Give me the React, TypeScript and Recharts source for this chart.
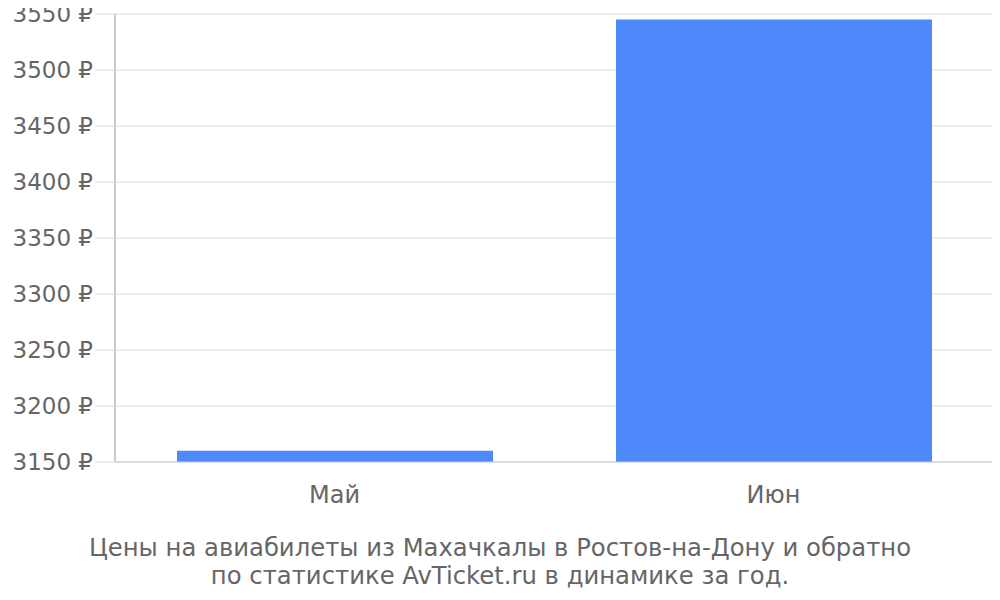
import { BarChart, Bar, XAxis, YAxis, CartesianGrid } from 'recharts';

const months = ['Май', 'Июн'];
const prices = [3160, 3545];
const priceTicks = [3150, 3200, 3250, 3300, 3350, 3400, 3450, 3500, 3550];
const bandEdges = [0, 1, 2];

const chartData = months.map((m, i) => ({ month: m, price: prices[i] }));

const FONT = '"DejaVu Sans", sans-serif';
const TEXT = '#666666';

function PriceTick({ x, y, payload }: any) {
  return (
    <text
      x={x}
      y={y}
      dy="0.36em"
      textAnchor="end"
      fill={TEXT}
      fontSize={23}
      fontFamily={FONT}
    >
      {`${payload.value} ₽`}
    </text>
  );
}

export default function App() {
  return (
    <div style={{ fontFamily: FONT, width: 992 }}>
      <style>{'svg { overflow: visible !important; }'}</style>
      <BarChart
        width={992}
        height={520}
        data={chartData}
        margin={{ top: 6, right: 7, bottom: 0, left: 0 }}
      >
        {/* band boundaries: gives the vertical grid and the long marks below the axis */}
        <XAxis
          xAxisId="bands"
          type="number"
          domain={[0, 2]}
          ticks={bandEdges}
          interval={0}
          height={0}
          tick={false}
          axisLine={false}
          tickLine={{ stroke: '#dddddd' }}
          tickSize={19}
        />
        <XAxis
          xAxisId="cat"
          dataKey="month"
          height={66}
          interval={0}
          axisLine={{ stroke: '#cccccc' }}
          tickLine={false}
          tickSize={6}
          tickMargin={18}
          tick={{ fill: TEXT, fontSize: 24, fontFamily: FONT }}
        />
        <YAxis
          width={107}
          domain={[3150, 3550]}
          ticks={priceTicks}
          interval={0}
          allowDataOverflow
          axisLine={{ stroke: '#aaaaaa' }}
          tickLine={{ stroke: '#dddddd' }}
          tickSize={20}
          tickMargin={2}
          tick={<PriceTick />}
        />
        <CartesianGrid xAxisId="bands" stroke="#dddddd" />
        <Bar
          xAxisId="cat"
          dataKey="price"
          fill="#4e8afb"
          barSize={316}
          isAnimationActive={false}
        />
      </BarChart>
      <div
        style={{
          marginLeft: -8,
          width: 1000,
          marginTop: 6,
          textAlign: 'center',
          color: TEXT,
          fontSize: 24.3,
          lineHeight: '28px',
        }}
      >
        Цены на авиабилеты из Махачкалы в Ростов-на-Дону и обратно
        <br />
        по статистике AvTicket.ru в динамике за год.
      </div>
    </div>
  );
}
